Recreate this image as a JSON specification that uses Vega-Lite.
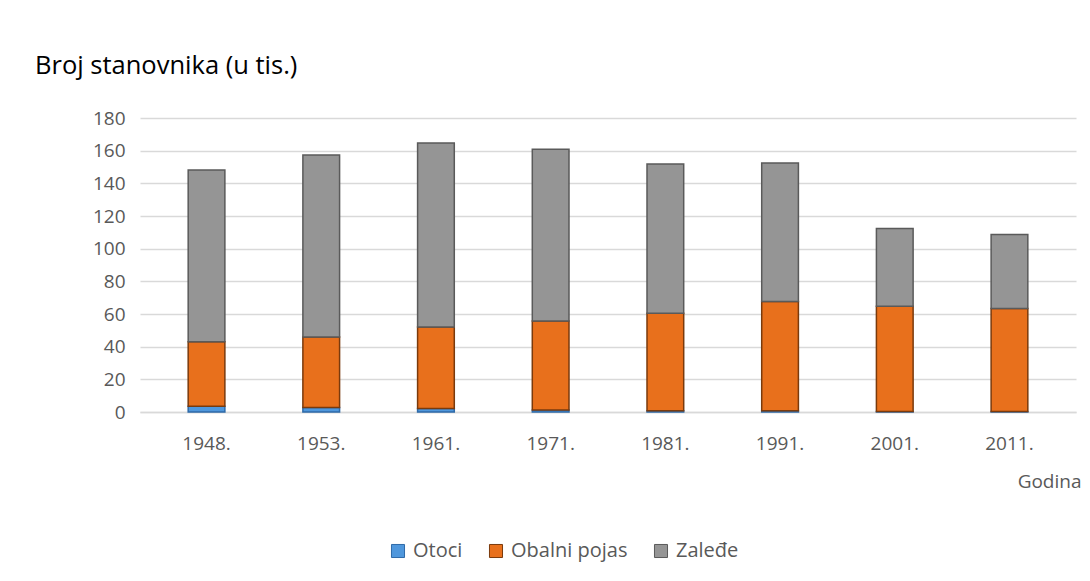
{
  "$schema": "https://vega.github.io/schema/vega-lite/v6.json",
  "width": 936,
  "height": 294,
  "autosize": "none",
  "padding": {"left": 140, "top": 118, "right": 14, "bottom": 169},
  "background": "white",
  "title": {
    "text": "Broj stanovnika (u tis.)",
    "anchor": "start",
    "frame": "group",
    "dx": -105,
    "offset": 10,
    "baseline": "alphabetic",
    "fontSize": 25.5,
    "font": "Open Sans",
    "fontWeight": "normal",
    "color": "#000000"
  },
  "data": {
    "values": [
      {"godina": "1948.", "serija": "Otoci", "o": 1, "v": 3.5},
      {"godina": "1948.", "serija": "Obalni pojas", "o": 2, "v": 39.5},
      {"godina": "1948.", "serija": "Zaleđe", "o": 3, "v": 105.2},
      {"godina": "1953.", "serija": "Otoci", "o": 1, "v": 2.8},
      {"godina": "1953.", "serija": "Obalni pojas", "o": 2, "v": 43.1},
      {"godina": "1953.", "serija": "Zaleđe", "o": 3, "v": 111.5},
      {"godina": "1961.", "serija": "Otoci", "o": 1, "v": 2.1},
      {"godina": "1961.", "serija": "Obalni pojas", "o": 2, "v": 50.0},
      {"godina": "1961.", "serija": "Zaleđe", "o": 3, "v": 112.6},
      {"godina": "1971.", "serija": "Otoci", "o": 1, "v": 1.2},
      {"godina": "1971.", "serija": "Obalni pojas", "o": 2, "v": 54.5},
      {"godina": "1971.", "serija": "Zaleđe", "o": 3, "v": 105.1},
      {"godina": "1981.", "serija": "Otoci", "o": 1, "v": 0.8},
      {"godina": "1981.", "serija": "Obalni pojas", "o": 2, "v": 59.6},
      {"godina": "1981.", "serija": "Zaleđe", "o": 3, "v": 91.5},
      {"godina": "1991.", "serija": "Otoci", "o": 1, "v": 0.7},
      {"godina": "1991.", "serija": "Obalni pojas", "o": 2, "v": 66.9},
      {"godina": "1991.", "serija": "Zaleđe", "o": 3, "v": 84.9},
      {"godina": "2001.", "serija": "Otoci", "o": 1, "v": 0.3},
      {"godina": "2001.", "serija": "Obalni pojas", "o": 2, "v": 64.4},
      {"godina": "2001.", "serija": "Zaleđe", "o": 3, "v": 47.6},
      {"godina": "2011.", "serija": "Otoci", "o": 1, "v": 0.3},
      {"godina": "2011.", "serija": "Obalni pojas", "o": 2, "v": 63.0},
      {"godina": "2011.", "serija": "Zaleđe", "o": 3, "v": 45.3}
    ]
  },
  "mark": {"type": "bar", "strokeWidth": 1.5},
  "encoding": {
    "x": {
      "field": "godina",
      "type": "ordinal",
      "sort": null,
      "scale": {"paddingInner": 0.68, "paddingOuter": 0.42},
      "axis": {
        "title": "Godina",
        "titleAnchor": "end",
        "titleAlign": "right",
        "titleX": 941,
        "titlePadding": 19,
        "titleFont": "Open Sans",
        "titleFontSize": 19,
        "titleFontWeight": "normal",
        "titleColor": "#595959",
        "labelAngle": 0,
        "labelFont": "Open Sans",
        "labelFontSize": 19,
        "labelColor": "#595959",
        "labelPadding": 22,
        "ticks": false,
        "domainColor": "#d9d9d9",
        "domainWidth": 1.5
      }
    },
    "y": {
      "field": "v",
      "type": "quantitative",
      "stack": "zero",
      "scale": {"domain": [0, 180], "nice": false},
      "axis": {
        "title": null,
        "values": [0, 20, 40, 60, 80, 100, 120, 140, 160, 180],
        "labelFont": "Open Sans",
        "labelFontSize": 19,
        "labelColor": "#595959",
        "labelPadding": 15,
        "ticks": false,
        "domain": false,
        "gridColor": "#d9d9d9",
        "gridWidth": 1.5
      }
    },
    "order": {"field": "o", "type": "quantitative"},
    "color": {
      "field": "serija",
      "type": "nominal",
      "sort": ["Otoci", "Obalni pojas", "Zaleđe"],
      "scale": {
        "domain": ["Otoci", "Obalni pojas", "Zaleđe"],
        "range": ["#4f97dc", "#e8701c", "#959595"]
      },
      "legend": {
        "title": null,
        "orient": "none",
        "direction": "horizontal",
        "legendX": 248,
        "legendY": 423,
        "symbolType": "square",
        "symbolSize": 170,
        "symbolStrokeColor": "#404040",
        "symbolStrokeWidth": 1,
        "labelFont": "Open Sans",
        "labelFontSize": 20,
        "labelColor": "#595959",
        "labelOffset": 5,
        "columnPadding": 23
      }
    },
    "stroke": {
      "field": "serija",
      "type": "nominal",
      "scale": {
        "domain": ["Otoci", "Obalni pojas", "Zaleđe"],
        "range": ["#2e6aa8", "#7a3a0c", "#5a5a5a"]
      },
      "legend": null
    }
  },
  "config": {"view": {"stroke": null}}
}
